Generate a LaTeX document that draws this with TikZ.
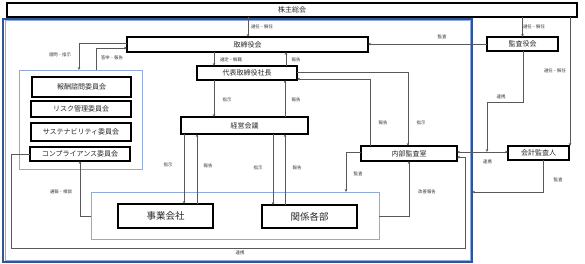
\documentclass[tikz,border=0pt]{standalone}
\usepackage{fontspec}
\setmainfont{Noto Sans CJK JP}
\usetikzlibrary{arrows.meta}
\definecolor{lblue}{HTML}{8FAADC}
\definecolor{dblue}{HTML}{2F5597}
\definecolor{ln}{HTML}{595959}
\begin{document}
\begin{tikzpicture}[x=1pt,y=-1pt,
  box/.style={draw=black,line width=1.1pt,inner sep=0pt,outer sep=0pt,font=\fontsize{7}{8}\selectfont,text=black!85},
  bigbox/.style={box,font=\fontsize{9.5}{11}\selectfont},
  grp/.style={draw=lblue,line width=0.8pt,inner sep=0pt,outer sep=0pt},
  conn/.style={draw=ln,line width=0.9pt,-{Stealth[length=3pt,width=2.6pt]}},
  conn2/.style={draw=ln,line width=0.9pt,{Stealth[length=3pt,width=2.6pt]}-{Stealth[length=3pt,width=2.6pt]}},
  lbl/.style={font=\fontsize{4.4}{5}\selectfont,text=black!80,inner sep=0pt}]
\useasboundingbox (0,0) rectangle (585,264);
% outer frame
\node[draw=dblue,line width=1.6pt,inner sep=0pt,outer sep=0pt,minimum width=469pt,minimum height=243pt] (frame) at (237.5,140.5) {};
\node[draw=lblue,line width=0.5pt,inner sep=0pt,minimum width=465.5pt,minimum height=239.5pt] (frameinner) at (237.5,140.5) {};
% nodes
\node[box,minimum width=570pt,minimum height=14pt] (kabu) at (292,10) {株主総会};
\node[box,minimum width=241pt,minimum height=15pt] (tori) at (247.5,44.5) {取締役会};
\node[box,minimum width=71pt,minimum height=14pt] (kansa) at (522.5,44) {監査役会};
\node[box,minimum width=100pt,minimum height=14pt] (daihyo) at (247,73) {代表取締役社長};
\node[box,minimum width=127pt,minimum height=17pt] (keiei) at (244.5,125.5) {経営会議};
\node[grp,minimum width=123pt,minimum height=99pt] (comm) at (80.5,119.5) {};
\node[box,minimum width=99pt,minimum height=20pt] (hoshu) at (81.5,87) {報酬諮問委員会};
\node[box,minimum width=100pt,minimum height=16pt] (risk) at (81,109) {リスク管理委員会};
\node[box,minimum width=100pt,minimum height=18pt] (sust) at (81,132) {サステナビリティ委員会};
\node[box,minimum width=100pt,minimum height=14pt] (comp) at (80,154) {コンプライアンス委員会};
\node[grp,minimum width=288pt,minimum height=47pt] (biz) at (235,215.5) {};
\node[bigbox,minimum width=95pt,minimum height=24pt] (jigyo) at (165.5,216) {事業会社};
\node[bigbox,minimum width=95pt,minimum height=23pt] (kankei) at (309.5,216.5) {関係各部};
\node[box,minimum width=96pt,minimum height=15pt] (naibu) at (409,153.5) {内部監査室};
\node[box,minimum width=61pt,minimum height=14pt] (kaikei) at (538.5,153) {会計監査人};
% connectors
\draw[conn] (248,0 |- kabu.south) -- (248,0 |- tori.north);
\node[lbl] (l1) at (262,27) {選任・解任};
\draw[conn] (522.5,0 |- kabu.south) -- (522.5,0 |- kansa.north);
\node[lbl] (l2) at (534,26.5) {選任・解任};
\draw[conn] (570,0 |- kabu.south) -- (570,0 |- kaikei.north);
\node[lbl] (l3) at (555,71) {選任・解任};
\draw[conn] (kansa.west) -- (tori.east |- kansa.west);
\node[lbl] (l4) at (442,37) {監査};
\draw[conn] (214,0 |- tori.south) -- (214,0 |- daihyo.north);
\node[lbl] (l5) at (231,60) {選定・解職};
\draw[conn] (286,0 |- daihyo.north) -- (286,0 |- tori.south);
\node[lbl] (l6) at (296,60) {報告};
\draw[conn] (214,0 |- daihyo.south) -- (214,0 |- keiei.north);
\node[lbl] (l7) at (227,99.5) {指示};
\draw[conn] (285,0 |- keiei.north) -- (285,0 |- daihyo.south);
\node[lbl] (l8) at (296,100) {報告};
\draw[conn] (tori.west |- 0,43) -- (79,43) -- (79,0 |- comm.north);
\node[lbl] (l9) at (60,54.5) {諮問・指示};
\draw[conn] (96,0 |- comm.north) -- (96,48) -- (tori.west |- 0,48);
\node[lbl] (l10) at (112,58) {答申・報告};
\draw[conn] (184,0 |- keiei.south) -- (184,0 |- jigyo.north);
\node[lbl] (l11) at (168,164.5) {指示};
\draw[conn] (197,0 |- jigyo.north) -- (197,0 |- keiei.south);
\node[lbl] (l12) at (208,166) {報告};
\draw[conn] (273,0 |- keiei.south) -- (273,0 |- kankei.north);
\node[lbl] (l13) at (258,168) {指示};
\draw[conn] (285,0 |- kankei.north) -- (285,0 |- keiei.south);
\node[lbl] (l14) at (297,168) {報告};
\draw[conn] (biz.west |- 0,216) -- (80,216) -- (80,0 |- comp.south);
\node[lbl] (l15) at (61,192) {通報・相談};
\draw[conn] (comp.west) -- (11,154) -- (11,248) -- (465,248) -- (465,157) -- (naibu.east |- 0,157);
\node[lbl] (l16) at (240,253) {連携};
\draw[conn] (daihyo.east |- 0,72) -- (408,72) -- (408,0 |- naibu.north);
\node[lbl] (l17) at (421,123) {指示};
\draw[conn] (370,0 |- naibu.north) -- (370,79) -- (daihyo.east |- 0,79);
\node[lbl] (l18) at (383,123) {報告};
\draw[conn] (naibu.west |- 0,152) -- (346,152) -- (346,0 |- biz.north);
\node[lbl] (l19) at (358,173.5) {監査};
\draw[conn] (biz.east |- 0,216) -- (409,216) -- (409,0 |- naibu.south);
\node[lbl] (l20) at (427,192) {改善報告};
\draw[conn2] (naibu.east |- 0,152) -- (kaikei.west |- 0,152);
\node[lbl] (l21) at (487.5,162) {連携};
\coordinate (jn) at (487,152);
\draw[conn] (523,0 |- kansa.south) -- (523,102) -- (487,102) -- (jn);
\node[lbl] (l22) at (501,97) {連携};
\draw[conn] (543,0 |- kaikei.south) -- (543,192) -- (frame.east |- 0,192);
\node[lbl] (l23) at (558,180) {監査};
\end{tikzpicture}
\end{document}
